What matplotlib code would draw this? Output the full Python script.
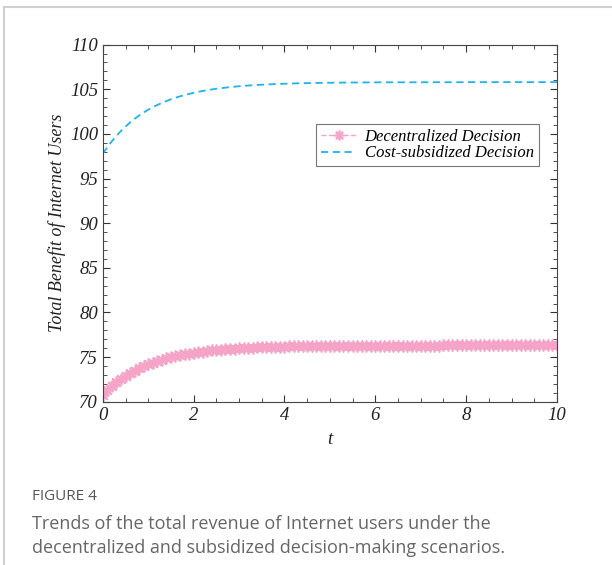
import numpy as np
import matplotlib.pyplot as plt
from matplotlib.lines import Line2D
from matplotlib.ticker import MultipleLocator

# time grid (dense markers every 0.1)
t = np.round(np.arange(0, 10.01, 0.1), 1)

decentralized = [
    70.80, 71.30, 71.75, 72.16, 72.54, 72.88, 73.19, 73.47, 73.73, 73.96,
    74.17, 74.37, 74.54, 74.70, 74.85, 74.98, 75.10, 75.21, 75.31, 75.40,
    75.48, 75.55, 75.62, 75.68, 75.74, 75.79, 75.83, 75.88, 75.92, 75.95,
    75.98, 76.01, 76.04, 76.06, 76.08, 76.10, 76.12, 76.14, 76.15, 76.16,
    76.18, 76.19, 76.20, 76.21, 76.22, 76.22, 76.23, 76.24, 76.24, 76.25,
    76.25, 76.26, 76.26, 76.26, 76.27, 76.27, 76.27, 76.27, 76.28, 76.28,
    76.28, 76.28, 76.28, 76.28, 76.29, 76.29, 76.29, 76.29, 76.29, 76.29,
    76.29, 76.29, 76.29, 76.29, 76.29, 76.30, 76.30, 76.30, 76.30, 76.30,
    76.30, 76.30, 76.30, 76.30, 76.30, 76.30, 76.30, 76.30, 76.30, 76.30,
    76.30, 76.30, 76.30, 76.30, 76.30, 76.30, 76.30, 76.30, 76.30, 76.30,
    76.30,
]

subsidized = [
    97.80, 98.52, 99.18, 99.78, 100.33, 100.82, 101.28, 101.69, 102.06, 102.40,
    102.71, 102.99, 103.24, 103.47, 103.68, 103.88, 104.05, 104.21, 104.35, 104.48,
    104.60, 104.71, 104.81, 104.90, 104.98, 105.06, 105.12, 105.18, 105.24, 105.29,
    105.34, 105.38, 105.42, 105.45, 105.48, 105.51, 105.54, 105.56, 105.58, 105.60,
    105.62, 105.64, 105.65, 105.67, 105.68, 105.69, 105.70, 105.71, 105.72, 105.72,
    105.73, 105.74, 105.74, 105.75, 105.75, 105.76, 105.76, 105.76, 105.77, 105.77,
    105.77, 105.78, 105.78, 105.78, 105.78, 105.78, 105.78, 105.78, 105.78, 105.78,
    105.78, 105.79, 105.79, 105.79, 105.79, 105.79, 105.79, 105.79, 105.79, 105.79,
    105.79, 105.80, 105.80, 105.80, 105.80, 105.80, 105.80, 105.80, 105.80, 105.80,
    105.80, 105.80, 105.80, 105.80, 105.80, 105.80, 105.80, 105.80, 105.80, 105.80,
    105.80,
]

labels = ["Decentralized Decision", "Cost-subsidized Decision"]
pink = "#f5a3c7"
blue = "#22b2ea"

serif = {"family": "Liberation Serif", "style": "italic"}

fig = plt.figure(figsize=(6.12, 5.65), dpi=100)
ax = fig.add_axes([0.168, 0.289, 0.742, 0.632])

ax.plot(t, decentralized, color=pink, linestyle="--", linewidth=1,
        marker=(8, 2, 0), markersize=8.5, markeredgewidth=1.2,
        markeredgecolor=pink, label=labels[0])
ax.plot(t, subsidized, color=blue, linestyle="--", linewidth=1.3,
        dashes=(4, 2.5), label=labels[1])

ax.set_xlim(0, 10)
ax.set_ylim(70, 110)
ax.xaxis.set_major_locator(MultipleLocator(2))
ax.xaxis.set_minor_locator(MultipleLocator(0.5))
ax.yaxis.set_major_locator(MultipleLocator(5))
ax.yaxis.set_minor_locator(MultipleLocator(1))
ax.tick_params(which="both", direction="in", top=True, right=True,
               colors="#333333", labelcolor="#222222")
ax.tick_params(which="major", length=5, width=0.8)
ax.tick_params(which="minor", length=3, width=0.6)
for sp in ax.spines.values():
    sp.set_color("#444444")
    sp.set_linewidth(0.8)

for lab in ax.get_xticklabels() + ax.get_yticklabels():
    lab.set_fontfamily("Liberation Serif")
    lab.set_fontstyle("italic")
    lab.set_fontsize(13.5)

ax.set_xlabel("t", fontdict=serif, fontsize=13.5, color="#222222", labelpad=5)
ax.set_ylabel("Total Benefit of Internet Users", fontdict=serif, fontsize=13,
              color="#222222", labelpad=3)

leg = ax.legend(loc="upper right", bbox_to_anchor=(0.96, 0.779),
                borderaxespad=0,
                prop={"family": "Liberation Serif", "style": "italic", "size": 12},
                frameon=True, fancybox=False, handlelength=2.1,
                borderpad=0.3, labelspacing=0.05, handletextpad=0.5,
                markerscale=0.85)
leg.get_frame().set_edgecolor("#555555")
leg.get_frame().set_linewidth(0.8)

# page frame
fig.add_artist(Line2D([4 / 612, 1], [1 - 7 / 565, 1 - 7 / 565],
                      color="#d0d0d0", linewidth=1.5))
fig.add_artist(Line2D([4 / 612, 4 / 612], [0, 1 - 7 / 565],
                      color="#d0d0d0", linewidth=1.5))

fig.text(32 / 612, 1 - 497 / 565, "FIGURE 4", fontsize=11, color="#555555",
         family="Open Sans", va="center")
fig.text(32 / 612, 1 - 524 / 565,
         "Trends of the total revenue of Internet users under the",
         fontsize=13, color="#666666", family="Open Sans", va="center")
fig.text(32 / 612, 1 - 548 / 565,
         "decentralized and subsidized decision-making scenarios.",
         fontsize=13, color="#666666", family="Open Sans", va="center")

plt.savefig("out.png", dpi=100)
